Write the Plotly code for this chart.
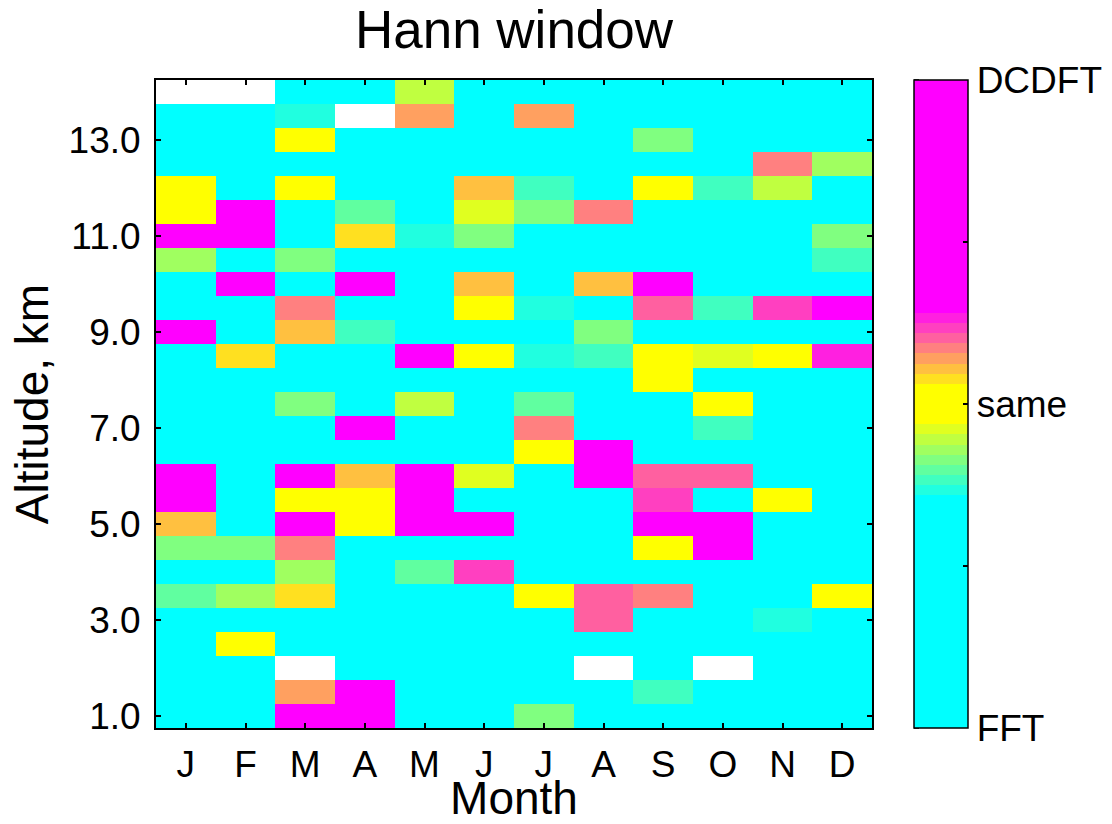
import plotly.graph_objects as go

FONT = "Liberation Sans, Arial, sans-serif"

# Month positions along x and their single-letter labels
month_pos = [1, 2, 3, 4, 5, 6, 7, 8, 9, 10, 11, 12]
month_labels = ["J", "F", "M", "A", "M", "J", "J", "A", "S", "O", "N", "D"]

# Altitude bin centres (km), bottom to top
altitudes = [1.0, 1.5, 2.0, 2.5, 3.0, 3.5, 4.0, 4.5, 5.0, 5.5, 6.0, 6.5, 7.0,
             7.5, 8.0, 8.5, 9.0, 9.5, 10.0, 10.5, 11.0, 11.5, 12.0, 12.5,
             13.0, 13.5, 14.0]
alt_ticks = [1, 3, 5, 7, 9, 11, 13]
alt_tick_labels = ["1.0", "3.0", "5.0", "7.0", "9.0", "11.0", "13.0"]

# Preference score: -1 = FFT better, 0 = same, +1 = DCDFT better, None = no data
F = -1.0   # FFT
S = 0.0    # same
D = 1.0    # DCDFT
N = None   # missing

# One row per altitude, listed from 14.0 km down to 1.0 km; columns J..D
score_rows_top_down = [
    [N, N, F, F, -0.11, F, F, F, F, F, F, F],                      # 14.0
    [F, F, -0.27, N, 0.14, F, 0.14, F, F, F, F, F],                # 13.5
    [F, F, S, F, F, F, F, F, -0.17, F, F, F],                      # 13.0
    [F, F, F, F, F, F, F, F, F, F, 0.17, -0.14],                   # 12.5
    [S, F, S, F, F, 0.11, -0.23, F, S, -0.23, -0.11, F],           # 12.0
    [S, D, F, -0.20, F, -0.08, -0.17, 0.17, F, F, F, F],           # 11.5
    [D, D, F, 0.08, -0.27, -0.17, F, F, F, F, F, -0.17],           # 11.0
    [-0.14, F, -0.17, F, F, F, F, F, F, F, F, -0.23],              # 10.5
    [F, D, F, D, F, 0.11, F, 0.11, D, F, F, F],                    # 10.0
    [F, F, 0.17, F, F, S, -0.27, F, 0.20, -0.23, 0.23, D],         # 9.5
    [D, F, 0.11, -0.23, F, F, F, -0.17, F, F, F, F],               # 9.0
    [F, 0.08, F, F, D, S, -0.27, -0.23, S, -0.08, S, 0.27],        # 8.5
    [F, F, F, F, F, F, F, F, S, F, F, F],                          # 8.0
    [F, F, -0.17, F, -0.11, F, -0.20, F, F, S, F, F],              # 7.5
    [F, F, F, D, F, F, 0.17, F, F, -0.23, F, F],                   # 7.0
    [F, F, F, F, F, F, S, D, F, F, F, F],                          # 6.5
    [D, F, D, 0.11, D, -0.08, F, D, 0.20, 0.20, F, F],             # 6.0
    [D, F, S, S, D, F, F, F, 0.23, F, S, F],                       # 5.5
    [0.11, F, D, S, D, D, F, F, D, D, F, F],                       # 5.0
    [-0.17, -0.17, 0.17, F, F, F, F, F, S, D, F, F],               # 4.5
    [F, F, -0.14, F, -0.20, 0.23, F, F, F, F, F, F],               # 4.0
    [-0.20, -0.14, 0.08, F, F, F, S, 0.20, 0.17, F, F, S],         # 3.5
    [F, F, F, F, F, F, F, 0.20, F, F, -0.27, F],                   # 3.0
    [F, S, F, F, F, F, F, F, F, F, F, F],                          # 2.5
    [F, F, N, F, F, F, F, N, F, N, F, F],                          # 2.0
    [F, F, 0.14, D, F, F, F, F, -0.23, F, F, F],                   # 1.5
    [F, F, D, D, F, F, -0.17, F, F, F, F, F],                      # 1.0
]
z = [[float("nan") if v is None else v for v in row]
     for row in reversed(score_rows_top_down)]

# Colour bar ticks and labels
cbar_ticks = [-1.0, -0.5, 0.0, 0.5, 1.0]
cbar_labels = ["FFT", "", "same", "", "DCDFT"]

# 64-step colour map: cyan plateau, ramp through yellow, magenta plateau
ramp_to_yellow = ["#20ffe0", "#40ffc0", "#60ffa0", "#80ff80",
                  "#a0ff60", "#c0ff40", "#e0ff20"]
ramp_to_magenta = ["#ffe020", "#ffc040", "#ffa060", "#ff8080",
                   "#ff60a0", "#ff40c0", "#ff20e0"]
cmap = (["#00ffff"] * 23 + ramp_to_yellow + ["#ffff00"] * 4
        + ramp_to_magenta + ["#ff00ff"] * 23)
n_col = len(cmap)
colorscale = []
for i, c in enumerate(cmap):
    colorscale.append([i / n_col, c])
    colorscale.append([(i + 1) / n_col, c])

# Plot-area geometry (pixels)
W, H = 1112, 824
ML, MR, MT, MB = 156, 240, 80, 96
plot_w = W - ML - MR
cb_x = (914 - ML) / plot_w
cb_thick = 54

fig = go.Figure(go.Heatmap(
    x=month_pos, y=altitudes, z=z,
    zmin=-1, zmax=1, colorscale=colorscale,
    hoverongaps=False,
    colorbar=dict(
        thickness=cb_thick, thicknessmode="pixels",
        len=1, lenmode="fraction", y=0.5, yanchor="middle",
        x=cb_x, xanchor="left", xpad=0, ypad=0,
        outlinecolor="black", outlinewidth=1.5,
        tickvals=cbar_ticks, ticktext=cbar_labels,
        ticks="inside", ticklen=5, tickwidth=1.5, tickcolor="black",
        tickfont=dict(size=37, color="black", family=FONT),
    ),
))

# Inside tick marks on the left edge of the colour bar
for t in cbar_ticks:
    yy = (t + 1) / 2
    fig.add_shape(type="line", xref="paper", yref="paper",
                  x0=cb_x, x1=cb_x + 5 / plot_w, y0=yy, y1=yy,
                  line=dict(color="black", width=1.5), layer="above")

axis_common = dict(
    showline=True, linecolor="black", linewidth=2, mirror="ticks",
    ticks="inside", ticklen=5, tickwidth=1.5, tickcolor="black",
    showgrid=False, zeroline=False,
    tickfont=dict(size=37, color="black", family=FONT),
)

fig.update_layout(
    width=W, height=H,
    margin=dict(l=ML, r=MR, t=MT, b=MB, autoexpand=False),
    paper_bgcolor="white", plot_bgcolor="white",
    font=dict(family=FONT, color="black"),
    title=dict(text="Hann window", x=0.5, xref="paper", xanchor="center",
               y=1 - 29 / H, yref="container", yanchor="middle",
               font=dict(size=53, color="black", family=FONT)),
    xaxis=dict(range=[0.5, 12.5], tickvals=month_pos, ticktext=month_labels,
               ticklabelstandoff=3,
               title=dict(text="Month", standoff=22,
                          font=dict(size=46, color="black", family=FONT)),
               **axis_common),
    yaxis=dict(range=[0.75, 14.25], tickvals=alt_ticks,
               ticktext=alt_tick_labels, ticklabelstandoff=6,
               title=dict(text="Altitude, km", standoff=5,
                          font=dict(size=46, color="black", family=FONT)),
               **axis_common),
)

fig.write_html("out.html")
